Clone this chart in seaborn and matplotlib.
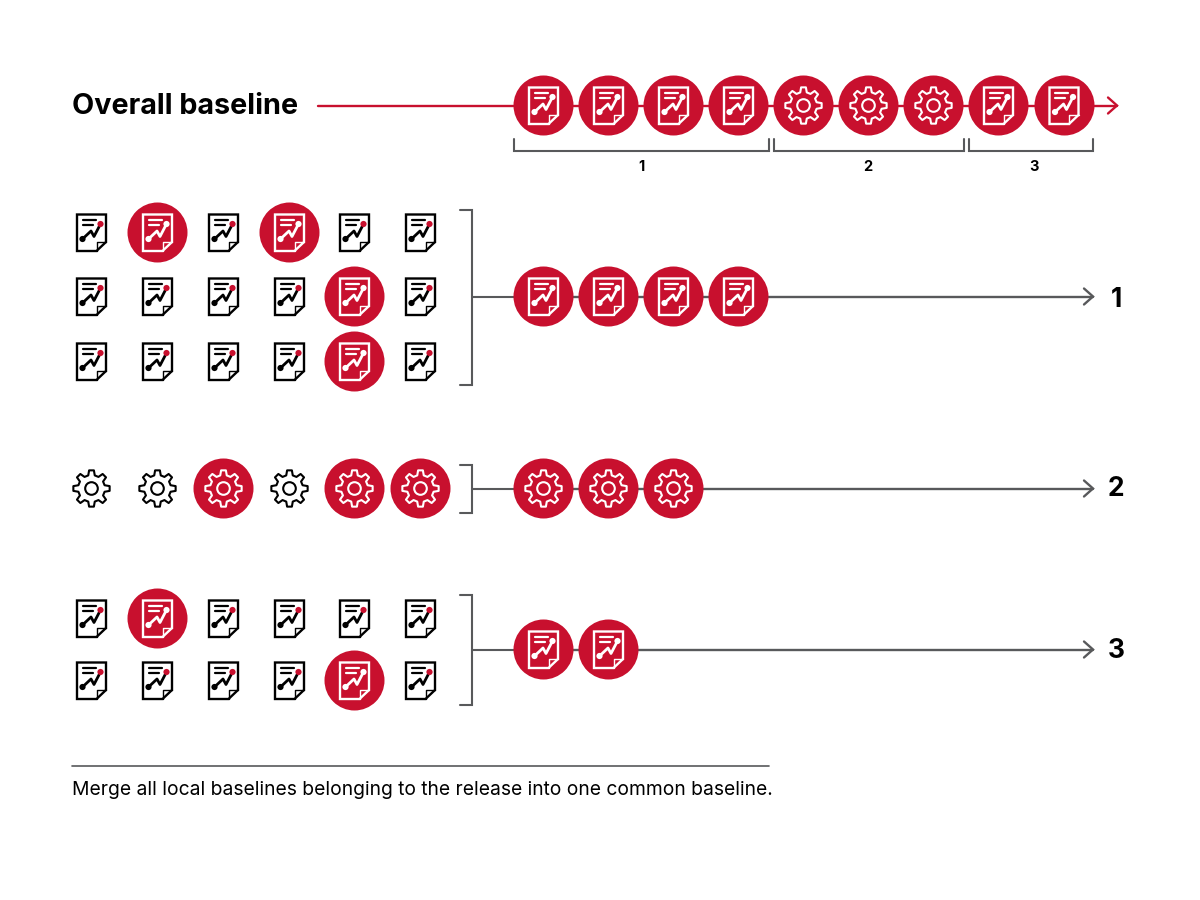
import numpy as np
import matplotlib.pyplot as plt
import seaborn as sns
from matplotlib.patches import Polygon, Circle

RED = '#c8102e'
GREY = '#58595b'

# Top timeline: icon kinds, and which bracket group they belong to
overall_kinds = ['doc', 'doc', 'doc', 'doc', 'gear', 'gear', 'gear', 'doc', 'doc']
overall_title = 'Overall baseline'
group_labels = ['1', '2', '3']

# Local baselines: 1 means picked (red circle), 0 means plain icon
local_1 = [[0, 1, 0, 1, 0, 0],
           [0, 0, 0, 0, 1, 0],
           [0, 0, 0, 0, 1, 0]]
local_2 = [[0, 0, 1, 0, 1, 1]]
local_3 = [[0, 1, 0, 0, 0, 0],
           [0, 0, 0, 0, 1, 0]]
merged_counts = [4, 3, 2]
merged_kinds = ['doc', 'gear', 'doc']
caption = 'Merge all local baselines belonging to the release into one common baseline.'

sns.set_theme(style='white')
plt.rcParams['font.family'] = ['Inter', 'DejaVu Sans']

fig = plt.figure(figsize=(12, 9), dpi=100)
ax = fig.add_axes([0, 0, 1, 1])
ax.set_xlim(0, 1200)
ax.set_ylim(900, 0)
ax.axis('off')

col_x = [91.5, 157.5, 223.5, 289.5, 354.5, 420.5]
time_x = [543.5, 608.5, 673.5, 738.5, 803.5, 868.5, 933.5, 998.5, 1064]


def draw_doc(x, y, line, dot):
    outline = [(-14.5, -18), (14.5, -18), (14.5, 9.5), (5, 18.5), (-14.5, 18.5)]
    ax.add_patch(Polygon([(x + a, y + b) for a, b in outline], closed=True, fill=False,
                         ec=line, lw=1.7, zorder=5, joinstyle='miter'))
    ax.plot([x + 5, x + 5, x + 14.5], [y + 18.5, y + 9.5, y + 9.5], color=line, lw=1.0, zorder=5)
    ax.plot([x - 9, x + 4], [y - 12.5, y - 12.5], color=line, lw=1.6, zorder=5)
    ax.plot([x - 9, x + 1], [y - 7.5, y - 7.5], color=line, lw=1.6, zorder=5)
    ax.plot([x - 9, x - 0.5, x + 2.5, x + 9], [y + 6.5, y - 1.5, y + 4, y - 8.5],
            color=line, lw=2.0, zorder=5)
    ax.add_patch(Circle((x - 9, y + 6.5), 3.1, color=line, zorder=6, lw=0))
    ax.add_patch(Circle((x + 9, y - 8.5), 3.1, color=dot, zorder=6, lw=0))


def draw_gear(x, y, line):
    pts = []
    for k in range(8):
        t = np.deg2rad(k * 45)
        for r, off in [(13.5, -14), (18.3, -7.5), (18.3, 7.5), (13.5, 14)]:
            a = t + np.deg2rad(off)
            pts.append((x + r * np.sin(a), y - r * np.cos(a)))
    ax.add_patch(Polygon(pts, closed=True, fill=False, ec=line, lw=1.5, zorder=5,
                         joinstyle='round'))
    ax.add_patch(Circle((x, y), 6.3, fill=False, ec=line, lw=1.5, zorder=5))


def draw_icon(kind, x, y, picked):
    line = 'white' if picked else 'black'
    if kind == 'doc':
        draw_doc(x, y, line, 'white' if picked else RED)
    else:
        draw_gear(x, y, line)


def red_dots(xs, ys):
    # markers snap half a pixel to the lower right, so pull them back
    sns.scatterplot(x=[x - 0.5 for x in xs], y=[y - 0.5 for y in ys], s=(60 * 0.72) ** 2,
                    color=RED, linewidth=0, ax=ax, legend=False, zorder=3, clip_on=False)


def flow(x0, x1, y, color):
    sns.lineplot(x=[x0, x1], y=[y, y], color=color, lw=1.7, ax=ax, legend=False,
                 errorbar=None, zorder=1)
    ax.plot([x1 - 9, x1, x1 - 9], [y - 8, y, y + 8], color=color, lw=1.7, zorder=1,
            solid_joinstyle='miter')


def side_bracket(top, bottom, mid):
    ax.plot([460, 472, 472, 460], [top, top, bottom, bottom], color=GREY, lw=1.5,
            solid_joinstyle='miter', zorder=1)
    ax.plot([472, 514], [mid, mid], color=GREY, lw=1.5, zorder=1)


# overall row
flow(318, 1117, 105.5, RED)
red_dots(time_x, [105.5] * len(time_x))
for x, kind in zip(time_x, overall_kinds):
    draw_icon(kind, x, 105.5, True)
ax.text(72.5, 106, overall_title, fontsize=20.7, fontweight='bold', color='black',
        ha='left', va='center')

# brackets under overall row
br_left = [514, 774, 969]
br_right = [769, 964, 1093]
br_text = [642, 868, 1034]
for lab, l, r, tx in zip(group_labels, br_left, br_right, br_text):
    ax.plot([l, l, r, r], [139, 151, 151, 139], color=GREY, lw=1.5,
            solid_joinstyle='miter', zorder=1)
    ax.text(tx - 0.5, 167, lab, fontsize=10.5, fontweight='bold', color='black',
            ha='center', va='center')

# local baselines
rows = [(local_1, [232.5, 296.5, 361.5], 'doc'), (local_2, [488.5], 'gear'), (local_3, [618.5, 680.5], 'doc')]
for grid, ys, kind in rows:
    for flags, y in zip(grid, ys):
        picked_x = [x for x, f in zip(col_x, flags) if f]
        red_dots(picked_x, [y] * len(picked_x))
        for x, f in zip(col_x, flags):
            draw_icon(kind, x, y, bool(f))

side_bracket(210, 385, 297)
side_bracket(465, 513, 489)
side_bracket(595, 705, 650)

# merged timelines
merged_y = [296.5, 488.5, 649.5]
label_y = [300, 489, 651]
for lab, n, kind, y, ly in zip(group_labels, merged_counts, merged_kinds, merged_y, label_y):
    flow(514, 1093, y, GREY)
    red_dots(time_x[:n], [y] * n)
    for x in time_x[:n]:
        draw_icon(kind, x, y, True)
    ax.text(1116, ly, lab, fontsize=19, fontweight='bold', color='black',
            ha='center', va='center')

# footer
ax.plot([72, 769], [765.5, 765.5], color=GREY, lw=1.2)
ax.text(72.5, 790, caption, fontsize=13.86, color='black', ha='left', va='center')

fig.savefig('out.png', dpi=100, facecolor='white')
